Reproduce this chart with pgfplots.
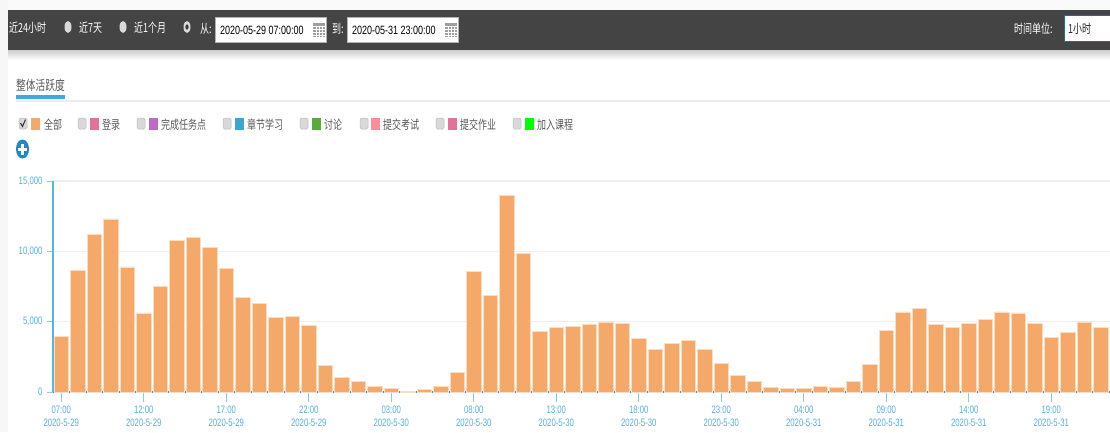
\documentclass[border=0pt]{standalone}
\usepackage{pgfplots}
\pgfplotsset{compat=1.18}
\usepackage{pgfplotstable}
\usepackage{fontspec}
\setmainfont{Liberation Sans}
\newfontfamily\cjk[FakeStretch=0.72]{Noto Sans CJK SC}
\newfontfamily\lat[FakeStretch=0.75]{Liberation Sans}
\newfontfamily\latt[FakeStretch=0.72]{Liberation Sans}
\definecolor{barfill}{HTML}{F4A96A}
\definecolor{barline}{HTML}{FBDDC2}
\definecolor{axb}{HTML}{2A9FD8}
\definecolor{axl}{HTML}{5AB4E2}
\definecolor{tickc}{HTML}{8ACBEC}
\definecolor{lblc}{HTML}{55AFE0}
\definecolor{gridc}{HTML}{EFEFEF}
\definecolor{darkbar}{HTML}{444444}
\definecolor{ltxt}{HTML}{5A5A5A}
\definecolor{HTMLp1}{HTML}{E4709B}
\definecolor{HTMLp2}{HTML}{BD6BC6}
\definecolor{HTMLp3}{HTML}{3FA3D4}
\definecolor{HTMLp4}{HTML}{5AAB3C}
\definecolor{HTMLp5}{HTML}{FF8C9A}
\definecolor{HTMLp6}{HTML}{00FF00}
\definecolor{HTMLp7}{HTML}{1E88C8}
\pgfplotstableread{
i v
0 3950
1 8650
2 11210
3 12300
4 8890
5 5620
6 7490
7 10760
8 11000
9 10290
10 8790
11 6710
12 6300
13 5310
14 5380
15 4760
16 1870
17 1020
18 780
19 400
20 260
21 70
22 170
23 400
24 1420
25 8580
26 6850
27 14000
28 9880
29 4290
30 4600
31 4690
32 4830
33 4980
34 4900
35 3820
36 3030
37 3440
38 3670
39 3030
40 2040
41 1185
42 780
43 330
44 240
45 240
46 400
47 330
48 780
49 1970
50 4360
51 5690
52 5925
53 4830
54 4600
55 4900
56 5140
57 5690
58 5620
59 4900
60 3910
61 4220
62 4980
63 4600
}\activity
\newcommand\tl[4]{\node[anchor=west,inner sep=0pt,text=#1,font=\cjk\fontsize{12.5}{13}\selectfont] at (#2,#3) {#4};}
\newcommand\tn[3]{\node[anchor=west,inner sep=0pt,text=black,font=\lat\fontsize{12}{13}\selectfont] at (#1,#2) {#3};}
\newcommand\calicon[2]{%
  \fill[gray!75] (#1,#2-7) rectangle (#1+12,#2+7);
  \foreach \k in {-4,-1,2,5} {\draw[white,line width=0.6pt] (#1,#2+\k) -- (#1+12,#2+\k);}
  \foreach \k in {3,6,9} {\draw[white,line width=0.6pt] (#1+\k,#2-4) -- (#1+\k,#2+7);}
}
\newcommand\leg[5]{%
  \fill[gray!30,draw=gray!55,rounded corners=1.5pt,line width=0.5pt] (#1,118) rectangle (#1+8,129);
  \fill[#3] (#2,118) rectangle (#2+9,130);
  \tl{ltxt}{#2+12}{124.5}{#4}
}
\begin{document}
\begin{tikzpicture}
\clip (0,0) rectangle (1110pt,432pt);
\fill[white] (0,0) rectangle (1110pt,432pt);
\begin{scope}[x=1pt,y=-1pt,shift={(0pt,432pt)}]
  \fill[black!3] (0,0) rectangle (8,432);
  \fill[black!2] (8,0) rectangle (1110,10);
  \fill[darkbar] (8,10) rectangle (1110,51);
  \shade[top color=black!18,bottom color=white] (8,51) rectangle (1110,60);
  \tl{white}{9}{28}{近24小时}
  \fill[white!85!black] (68,27) ellipse (3.5 and 6);
  \tl{white}{79}{28}{近7天}
  \fill[white!85!black] (123,27) ellipse (3.5 and 6);
  \tl{white}{134}{28}{近1个月}
  \fill[white!85!black] (187,27) ellipse (3.5 and 6);
  \fill[darkbar!80!black] (187,27) ellipse (1.6 and 2.6);
  \tl{white}{200}{29}{从:}
  \fill[white,draw=gray!60] (215,17) rectangle (326,42);
  \tn{220}{30}{2020-05-29 07:00:00}
  \calicon{313}{30}
  \tl{white}{332}{29}{到:}
  \fill[white,draw=gray!60] (347,17) rectangle (458,42);
  \tn{352}{30}{2020-05-31 23:00:00}
  \calicon{445}{30}
  \tl{white}{1014}{29}{时间单位:}
  \fill[white,draw=axb!70!black,line width=0.8pt] (1064,15) rectangle (1115,41);
  \tl{black!85}{1068}{29}{1小时}
  \node[anchor=west,inner sep=0pt,text=ltxt,font=\cjk\fontsize{13.5}{14}\selectfont] at (16,85) {整体活跃度};
  \fill[gray!15] (16,100) rectangle (1110,102);
  \fill[axb!90] (16,95) rectangle (65,99.5);
  % legend
  \fill[gray!30,draw=gray!55,rounded corners=1.5pt,line width=0.5pt] (19,118) rectangle (27,129);
  \draw[black!80,line width=1pt] (20.5,123) -- (22.5,126.5) -- (25.5,119.5);
  \fill[barfill] (31,118) rectangle (40,130);
  \tl{ltxt}{44}{124.5}{全部}
  \leg{78}{90}{HTMLp1}{登录}{}
  \leg{137}{149}{HTMLp2}{完成任务点}{}
  \leg{223}{235}{HTMLp3}{章节学习}{}
  \leg{300}{312}{HTMLp4}{讨论}{}
  \leg{360}{371}{HTMLp5}{提交考试}{}
  \leg{436}{448}{HTMLp1}{提交作业}{}
  \leg{513}{525}{HTMLp6}{加入课程}{}
  % plus icon
  \fill[HTMLp7] (22.5,149) ellipse (6.5 and 9.5);
  \fill[white] (21,143.5) rectangle (24,154.5);
  \fill[white] (18,147.5) rectangle (27,150.5);
\end{scope}
\begin{axis}[
  at={(53pt,40pt)}, anchor=south west,
  scale only axis, width=1057pt, height=211pt,
  xmin=-0.5, xmax=63.56, ymin=0, ymax=15000,
  axis lines=left, axis line style={-, axl, line width=1.3pt},
  x axis line style={-, axb, line width=1.5pt},
  xtick={0,5,10,15,20,25,30,35,40,45,50,55,60},
  xticklabels={
    {07:00\\[2pt]2020-5-29},{12:00\\[2pt]2020-5-29},{17:00\\[2pt]2020-5-29},{22:00\\[2pt]2020-5-29},
    {03:00\\[2pt]2020-5-30},{08:00\\[2pt]2020-5-30},{13:00\\[2pt]2020-5-30},{18:00\\[2pt]2020-5-30},{23:00\\[2pt]2020-5-30},
    {04:00\\[2pt]2020-5-31},{09:00\\[2pt]2020-5-31},{14:00\\[2pt]2020-5-31},{19:00\\[2pt]2020-5-31}},
  xticklabel style={align=center,text=lblc,font=\latt\fontsize{10.8}{11}\selectfont,inner sep=0pt,yshift=-9.5pt},
  ytick={0,5000,10000,15000},
  scaled y ticks=false,
  yticklabel style={text=lblc,font=\latt\fontsize{10.8}{11}\selectfont,
    /pgf/number format/assume math mode=true,
    /pgf/number format/1000 sep={,},inner sep=0pt,xshift=-6pt},
  tick align=outside, tick pos=left,
  ytick style={tickc,line width=1pt,/pgfplots/major tick length=6pt},
  xtick style={tickc,line width=1pt,/pgfplots/major tick length=10pt},
  ymajorgrids, major grid style={gridc,line width=1.5pt},
]
\addplot[ybar,bar width=14.4pt,fill=barfill,draw=barline,line width=0.7pt] table[x=i,y=v] {\activity};
\end{axis}
\end{tikzpicture}
\end{document}
